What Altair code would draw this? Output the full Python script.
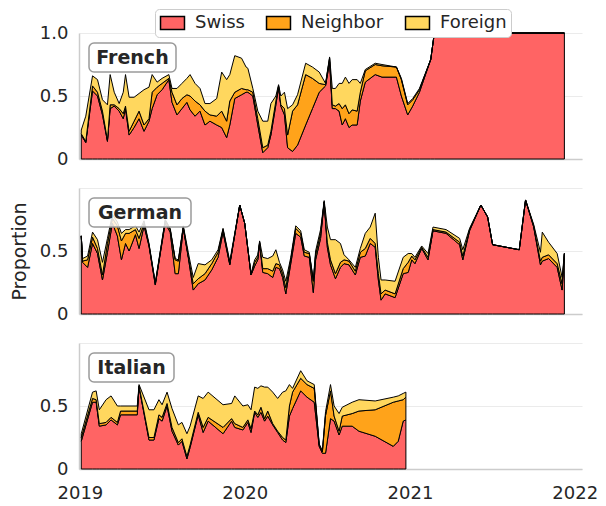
import altair as alt
import pandas as pd

# ---------------- data ----------------
groups = ["Swiss", "Neighbor", "Foreign"]
colors = ["#ff6464", "#ffa31a", "#ffd75e"]
panels = ["French", "German", "Italian"]
year_ticks = [2019, 2020, 2021, 2022]

fr_dates = ["2019-01-04","2019-01-14","2019-01-29","2019-02-09","2019-02-20","2019-03-03","2019-03-09","2019-03-18","2019-03-29","2019-04-07",
            "2019-04-12","2019-04-20","2019-05-01","2019-05-12","2019-05-23","2019-06-03","2019-06-10","2019-06-21","2019-07-02","2019-07-17",
            "2019-07-24","2019-08-04","2019-08-15","2019-08-26","2019-09-02","2019-09-13","2019-09-24","2019-10-05","2019-10-16","2019-10-31",
            "2019-11-11","2019-11-22","2019-11-29","2019-12-10","2019-12-25","2020-01-04","2020-01-08","2020-01-19","2020-01-30","2020-02-10",
            "2020-02-21","2020-02-28","2020-03-10","2020-03-16","2020-03-21","2020-03-29","2020-04-05","2020-04-16","2020-04-27","2020-05-15",
            "2020-05-30","2020-06-14","2020-06-28","2020-07-07","2020-07-13","2020-07-20","2020-07-28","2020-08-04","2020-08-11","2020-08-19",
            "2020-08-26","2020-09-06","2020-09-13","2020-09-24","2020-10-16","2020-10-31","2020-12-02","2020-12-13","2020-12-27","2021-01-07",
            "2021-01-22","2021-02-16","2021-02-24","2021-12-09"]
fr_swiss = [.19,.13,.54,.50,.35,.14,.40,.42,.38,.32,
            .40,.19,.25,.32,.22,.30,.40,.51,.55,.63,
            .45,.35,.40,.45,.39,.34,.38,.27,.30,.27,
            .25,.17,.27,.48,.51,.53,.53,.50,.27,.05,
            .09,.19,.43,.57,.42,.35,.09,.06,.11,.27,
            .40,.53,.58,.77,.40,.40,.38,.27,.32,.25,
            .27,.27,.46,.61,.67,.65,.65,.50,.35,.42,
            .53,.79,1.0,1.0]
fr_neighbor = [.01,.01,.04,.03,.03,.01,.03,.01,.02,.04,
               .02,.03,.05,.06,.05,.02,.13,.06,.05,.01,
               .08,.08,.08,.06,.11,.12,.05,.11,.05,.07,
               .13,.13,.19,.05,.05,.02,.02,.03,.05,.04,
               .02,.03,.03,.01,.01,.05,.10,.32,.32,.40,
               .24,.07,.01,.03,.03,.02,.06,.13,.11,.11,
               .12,.11,.07,.09,.08,.09,.08,.13,.08,.05,
               .02,0,0,0]
fr_foreign = [.03,.20,.08,.10,.09,.28,.24,.10,.04,.17,
              .25,.27,.19,.14,.28,.25,.14,.04,.04,.03,
              .03,.13,.12,.13,.17,.14,.13,.06,.09,.14,
              .31,.33,.21,.29,.24,.18,.17,.03,.06,.21,
              .19,.22,.04,.01,.07,.13,.21,.05,.08,.09,
              .09,.09,.01,.01,.13,.14,.16,.20,.22,.24,
              .24,.25,.07,.01,.01,.01,0,.01,.01,.01,
              .01,0,0,0]

de_dates = ["2019-01-04","2019-01-07","2019-01-18","2019-01-29","2019-02-09","2019-02-20","2019-03-03","2019-03-14","2019-03-25","2019-04-03",
            "2019-04-12","2019-04-20","2019-05-04","2019-05-12","2019-05-23","2019-06-03","2019-06-17","2019-06-28","2019-07-09","2019-07-20",
            "2019-07-31","2019-08-07","2019-08-18","2019-08-29","2019-09-09","2019-09-20","2019-10-05","2019-10-20","2019-11-03","2019-11-14",
            "2019-11-29","2019-12-21","2020-01-01","2020-01-15","2020-01-23","2020-01-30","2020-02-03","2020-02-10","2020-02-21","2020-03-03",
            "2020-03-10","2020-03-18","2020-03-25","2020-04-01","2020-04-12","2020-04-23","2020-05-04","2020-05-12","2020-05-23","2020-06-01",
            "2020-06-06","2020-06-17","2020-06-25","2020-07-02","2020-07-09","2020-07-20","2020-07-31","2020-08-08","2020-08-19","2020-09-02",
            "2020-09-13","2020-09-24","2020-10-05","2020-10-16","2020-10-23","2020-10-29","2020-11-07","2020-11-29",
            "2020-12-17","2020-12-28","2021-01-05","2021-01-12","2021-01-27","2021-02-10","2021-02-21","2021-03-22","2021-04-21","2021-04-28","2021-05-13",
            "2021-06-07","2021-06-22","2021-07-03","2021-08-31","2021-09-14","2021-10-02","2021-10-17","2021-10-21","2021-11-04","2021-11-23","2021-12-04","2021-12-09"]
de_swiss = [.62,.41,.37,.56,.48,.27,.49,.72,.62,.43,
            .56,.50,.63,.52,.70,.54,.23,.48,.72,.65,
            .32,.32,.68,.45,.19,.24,.27,.35,.45,.65,
            .39,.865,.72,.31,.38,.43,.56,.33,.32,.29,
            .37,.36,.29,.16,.40,.64,.61,.46,.45,.17,
            .43,.60,.89,.53,.39,.28,.37,.40,.39,.31,
            .45,.46,.56,.53,.27,.11,.16,.13,
            .32,.33,.43,.40,.52,.43,.66,.64,.55,.43,.66,
            .865,.77,.55,.51,.905,.69,.39,.42,.44,.37,.19,.48]
de_neighbor = [0,.01,.06,.05,.04,.04,.07,.04,.08,.15,
               .08,.14,.04,.08,.02,.01,.01,.01,.02,.02,
               .11,.10,.01,.01,.05,.04,.05,.05,.04,.02,
               .01,0,0,0,.03,.02,.01,.03,.04,.05,
               .03,.03,.03,.05,.03,.04,.03,.03,.03,.09,
               .04,.04,0,.04,.04,.04,.04,.03,.03,.03,
               .04,.06,.04,.03,.05,.05,.03,.03,
               .04,.08,.03,.03,.01,.02,.01,.01,.02,.03,.01,
               0,0,0,0,0,.01,.03,.03,.03,.03,.05,0]
de_foreign = [0,.02,.03,.04,.07,.10,.04,.03,.03,.06,
              .03,.03,.03,.05,.02,.01,.01,.01,.01,.01,
              .01,.01,.01,.03,.05,.12,.07,.03,.02,.01,
              .02,0,0,.01,.02,.02,.01,.09,.08,.12,
              .11,.02,.03,.05,.02,.02,.02,.02,.01,.01,
              .03,.03,.01,.12,.16,.27,.15,.04,.01,.03,
              .03,.12,.09,.24,.13,.11,.08,.10,
              .09,.07,.02,.02,.01,.03,.02,.02,.03,.05,.01,
              0,0,0,0,0,.01,.07,.20,.10,.08,.05,0]

it_dates = ["2019-01-04","2019-01-29","2019-02-06","2019-02-13","2019-02-28","2019-03-11","2019-03-25","2019-04-01","2019-05-08","2019-05-12",
            "2019-06-03","2019-06-14","2019-06-25","2019-07-02","2019-07-13","2019-07-24","2019-08-07","2019-08-15","2019-08-26","2019-09-02",
            "2019-09-20","2019-10-01","2019-10-12","2019-11-14","2019-12-03","2019-12-10","2019-12-28","2020-01-08","2020-01-15","2020-01-23",
            "2020-01-30","2020-02-06","2020-02-14","2020-02-21","2020-03-03","2020-03-14","2020-03-25","2020-04-01","2020-04-09","2020-04-16",
            "2020-05-04","2020-05-18","2020-06-03","2020-06-14","2020-06-21","2020-06-28","2020-07-09","2020-07-17","2020-07-28","2020-08-04",
            "2020-08-26","2020-09-10","2020-10-16","2020-11-25","2020-12-06","2020-12-17","2020-12-23"]
it_swiss = [.22,.53,.53,.34,.35,.39,.35,.43,.43,.65,
            .23,.23,.40,.38,.50,.30,.19,.22,.08,.17,
            .43,.29,.38,.28,.38,.33,.31,.37,.29,.45,
            .41,.45,.38,.42,.35,.29,.23,.21,.42,.48,
            .62,.57,.53,.18,.125,.125,.40,.38,.27,.34,
            .34,.30,.26,.18,.22,.38,.39]
it_neighbor = [.03,.03,.02,.02,.02,.02,.02,.03,.03,.01,
               .02,.02,.03,.03,.02,.03,.02,.02,.02,.02,
               .02,.04,.03,.05,.02,.03,.02,.02,.03,.01,
               .02,.04,.02,.04,.01,.01,.02,.02,.08,.13,
               .10,.10,.11,.01,.01,.30,.22,.04,.03,.08,
               .10,.16,.21,.35,.32,.17,.18]
it_foreign = [.03,.05,.07,.11,.18,.17,.13,.04,.04,.01,
              .22,.22,.12,.10,.09,.15,.14,.13,.18,.15,
              .13,.23,.20,.18,.12,.22,.17,.12,.15,.19,
              .21,.17,.25,.19,.25,.26,.36,.39,.17,.03,
              .06,.03,.03,.01,.01,.03,.05,.08,.14,.07,
              .09,.09,.07,.04,.04,.05,.04]

# ---------------- long table ----------------
series = {
    "French": (fr_dates, fr_swiss, fr_neighbor, fr_foreign),
    "German": (de_dates, de_swiss, de_neighbor, de_foreign),
    "Italian": (it_dates, it_swiss, it_neighbor, it_foreign),
}
rows = []
for name, (dates, s, n, f) in series.items():
    for d, a, b, c in zip(dates, s, n, f):
        for k, (g, v) in enumerate(zip(groups, (a, b, c))):
            rows.append({"panel": name, "date": d, "group": g, "ord": k, "value": v})
df = pd.DataFrame(rows)

FONT = "DejaVu Sans"
TXT = "#262626"
W, H = 503, 126
box_w = {"French": 87, "German": 102, "Italian": 85}

x_scale = alt.Scale(domain=[alt.DateTime(year=2018, month=12, date=30),
                            alt.DateTime(year=2022, month=1, date=17)])
year_vals = [alt.DateTime(year=y, month=1, date=1) for y in year_ticks]

legend = alt.Legend(
    title=None, orient="none", direction="horizontal",
    legendX=76, legendY=-24,
    labelFont=FONT, labelFontSize=18, labelColor=TXT, labelOffset=13,
    symbolType="M-1.4,-0.76H1.4V0.76H-1.4Z", symbolSize=293, symbolOffset=4,
    symbolStrokeColor="black", symbolStrokeWidth=1.5, symbolOpacity=1,
    columnPadding=18, padding=4, fillColor="white", strokeColor="#cccccc",
    cornerRadius=4,
)


def panel(name, i):
    last = i == len(panels) - 1
    if last:
        xaxis = alt.Axis(values=year_vals, format="%Y", title=None, grid=False, ticks=False,
                         labelFont=FONT, labelFontSize=18, labelColor=TXT, labelPadding=15,
                         labelFlush=False, labelOverlap=False,
                         domainColor="#cccccc", domainWidth=1.5)
    else:
        xaxis = alt.Axis(values=year_vals, labels=False, title=None, grid=False, ticks=False,
                         minExtent=0, maxExtent=0,
                         domainColor="#cccccc", domainWidth=1.5)
    lab_expr = ("datum.value == 0 ? '0' : (datum.value == 1 ? '1.0' : '0.5')" if i == 0
                else "datum.value == 0 ? '0' : (datum.value == 1 ? '' : '0.5')")
    yaxis = alt.Axis(values=[0, 0.5, 1], labelExpr=lab_expr,
                     title="Proportion" if i == 1 else " ",
                     titleFont=FONT, titleFontSize=19, titleFontWeight="normal", titleColor=TXT,
                     titlePadding=10, labelFont=FONT, labelFontSize=18, labelColor=TXT,
                     labelPadding=11, ticks=False, grid=True, gridColor="#ebebeb", gridWidth=1.2,
                     minExtent=0, domainColor="#cccccc", domainWidth=1.5)
    area = alt.Chart(df).transform_filter(alt.datum.panel == name).mark_area(
        stroke="black", strokeWidth=1, strokeJoin="round", interpolate="linear"
    ).encode(
        x=alt.X("date:T", scale=x_scale, axis=xaxis),
        y=alt.Y("value:Q", stack="zero", scale=alt.Scale(domain=[0, 1], nice=False), axis=yaxis),
        color=alt.Color("group:N", scale=alt.Scale(domain=groups, range=colors), legend=legend),
        order=alt.Order("ord:Q"),
    )
    lab_df = pd.DataFrame({"label": [name]})
    bw = box_w[name]
    box = alt.Chart(lab_df).mark_rect(
        fill="white", fillOpacity=0.85, stroke="#9a9a9a", strokeWidth=1.5, cornerRadius=5
    ).encode(x=alt.value(10), x2=alt.value(10 + bw), y=alt.value(10), y2=alt.value(39))
    txt = alt.Chart(lab_df).mark_text(
        font=FONT, fontSize=19, fontWeight="bold", color=TXT, align="center", baseline="middle"
    ).encode(text="label:N", x=alt.value(10 + bw / 2), y=alt.value(25))
    return alt.layer(area, box, txt).properties(width=W, height=H)


chart = alt.vconcat(*[panel(p, i) for i, p in enumerate(panels)], spacing=20).properties(
    padding={"left": 2, "top": 0, "right": 0, "bottom": 0}
).configure_view(stroke=None)

chart.save("out.html", embed_options={"renderer": "svg", "actions": False})
